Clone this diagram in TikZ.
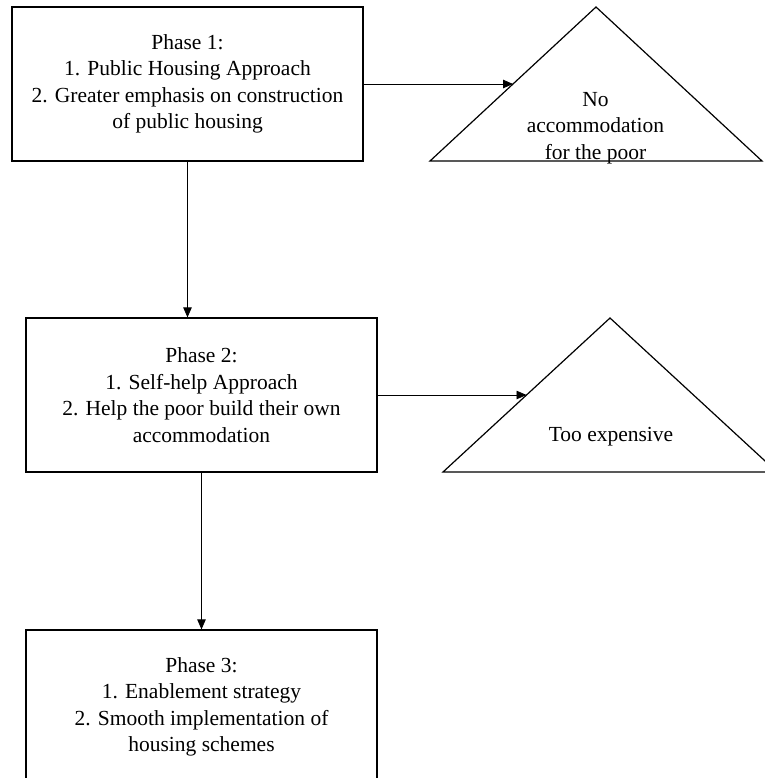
\documentclass[tikz,border=0pt]{standalone}
\usepackage{fontspec}
\setmainfont{Liberation Serif}
\usetikzlibrary{arrows.meta}
\usetikzlibrary{calc}

\tikzset{
	phasebox/.style={draw, line width=1.2pt, minimum width=351pt, minimum height=154pt, inner sep=0pt, align=center, font=\fontsize{21.5}{26.5}\selectfont},
	outcome/.style={inner sep=0pt, align=center, font=\fontsize{21.5}{26.5}\selectfont},
	outline/.style={draw, line width=1.2pt},
	flowarrow/.style={line width=0.8pt, -{Triangle[length=10pt, width=8.5pt]}}
}

\begin{document}
\begin{tikzpicture}[x=1pt, y=-1pt]
	% page: 764 x 778, y grows downwards
	\useasboundingbox (0,0) rectangle (764,778);

	% phase boxes
	\node[phasebox] (phaseone) at (187.5,84) {Phase 1:\\1. Public Housing Approach\\2. Greater emphasis on construction\\of public housing};
	\node[phasebox] (phasetwo) at (201.5,395) {Phase 2:\\1. Self-help Approach\\2. Help the poor build their own\\accommodation};
	\node[phasebox] (phasethree) at (201.5,707) {Phase 3:\\1. Enablement strategy\\2. Smooth implementation of\\housing schemes};

	% outcome of phase 1
	\coordinate (onetop) at (596,7);
	\coordinate (oneleft) at (430,161);
	\coordinate (oneright) at (762,161);
	\draw[outline] (oneleft) -- (onetop) -- (oneright) -- cycle;
	\path (oneleft) -- (onetop) coordinate[pos=0.5] (onein);
	\node[outcome] (onetext) at (595.5,128) {No\\accommodation\\for the poor};

	% outcome of phase 2
	\coordinate (twotop) at (610,318);
	\coordinate (twoleft) at (443,472);
	\coordinate (tworight) at (777,472);
	\draw[outline] (twoleft) -- (twotop) -- (tworight) -- cycle;
	\path (twoleft) -- (twotop) coordinate[pos=0.5] (twoin);
	\node[outcome] (twotext) at (611,437) {Too expensive};

	% connectors
	\draw[flowarrow] (phaseone.east) -- (onein);
	\draw[flowarrow] (phasetwo.east) -- (twoin);
	\draw[flowarrow] (phaseone.south) -- (phaseone.south |- phasetwo.north);
	\draw[flowarrow] (phasetwo.south) -- (phasethree.north);
\end{tikzpicture}
\end{document}
